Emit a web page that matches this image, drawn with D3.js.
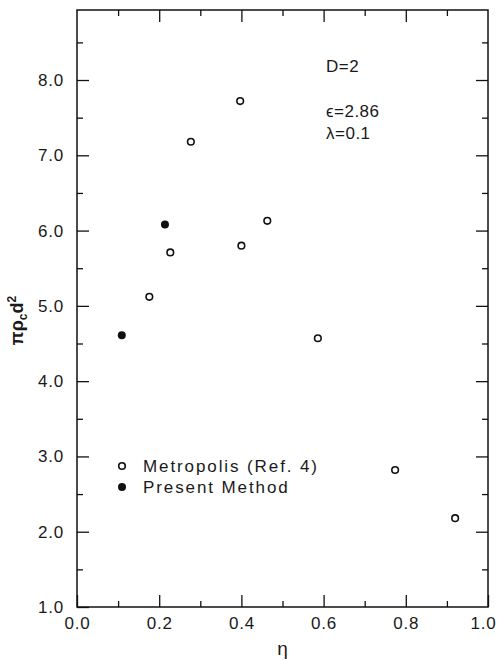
<!DOCTYPE html>
<html>
<head>
<meta charset="utf-8">
<script src="https://cdn.jsdelivr.net/npm/d3@7"></script>
<style>
  html, body { margin: 0; padding: 0; background: #fff; }
  svg { display: block; }
  text { font-family: "Liberation Sans", Arial, sans-serif; fill: #1a1a1a; }
</style>
</head>
<body>
<svg id="chart" width="498" height="661"></svg>
<script>
// Packing fraction eta vs reduced critical density, D=2
const metropolisEta = [0.176, 0.227, 0.277, 0.397, 0.400, 0.463, 0.586, 0.774, 0.920];
const metropolisRho = [5.12, 5.71, 7.18, 7.72, 5.80, 6.13, 4.57, 2.82, 2.18];
const presentEta = [0.109, 0.214];
const presentRho = [4.61, 6.08];

const xMajorTicks = [0.0, 0.2, 0.4, 0.6, 0.8, 1.0];
const xMinorTicks = [0.1, 0.3, 0.5, 0.7, 0.9];
const yMajorTicks = [1, 2, 3, 4, 5, 6, 7, 8];
const yMinorTicks = [1.5, 2.5, 3.5, 4.5, 5.5, 6.5, 7.5, 8.5];

const legendLabels = ["Metropolis (Ref. 4)", "Present Method"];

const plotL = 77, plotR = 488, plotT = 10, plotB = 607;

const svg = d3.select("#chart");

const x = d3.scaleLinear().domain([0, 1]).range([plotL, plotR]);
const y = d3.scaleLinear().domain([1, 8.93]).range([plotB, plotT]);

const fmt = d3.format(".1f");
const major = 12, minor = 6;

function styleAxis(g) {
  g.select(".domain").remove();
  g.selectAll(".tick line").attr("stroke", "#111").attr("stroke-width", 1.3);
  g.selectAll("text")
    .style("font-size", "17px")
    .style("letter-spacing", "0.8px")
    .attr("fill", "#2a2a2a");
}

// bottom axis
const xAxisG = svg.append("g").attr("transform", `translate(0,${plotB})`)
  .call(d3.axisBottom(x).tickValues(xMajorTicks).tickFormat(fmt).tickSizeInner(-major).tickSizeOuter(0).tickPadding(10))
  .call(styleAxis);
// keep the last label inside the page edge
xAxisG.selectAll(".tick text").filter(d => d === 1).attr("dx", -5);
svg.append("g").attr("transform", `translate(0,${plotB})`)
  .call(d3.axisBottom(x).tickValues(xMinorTicks).tickFormat("").tickSizeInner(-minor).tickSizeOuter(0))
  .call(styleAxis);
// top axis
svg.append("g").attr("transform", `translate(0,${plotT})`)
  .call(d3.axisTop(x).tickValues(xMajorTicks.slice(1, -1)).tickFormat("").tickSizeInner(-major).tickSizeOuter(0))
  .call(styleAxis);
svg.append("g").attr("transform", `translate(0,${plotT})`)
  .call(d3.axisTop(x).tickValues(xMinorTicks).tickFormat("").tickSizeInner(-minor).tickSizeOuter(0))
  .call(styleAxis);
// left axis
svg.append("g").attr("transform", `translate(${plotL},0)`)
  .call(d3.axisLeft(y).tickValues(yMajorTicks).tickFormat(fmt).tickSizeInner(-major).tickSizeOuter(0).tickPadding(13))
  .call(styleAxis);
svg.append("g").attr("transform", `translate(${plotL},0)`)
  .call(d3.axisLeft(y).tickValues(yMinorTicks).tickFormat("").tickSizeInner(-minor).tickSizeOuter(0))
  .call(styleAxis);
// right axis
svg.append("g").attr("transform", `translate(${plotR},0)`)
  .call(d3.axisRight(y).tickValues(yMajorTicks.slice(1)).tickFormat("").tickSizeInner(-major).tickSizeOuter(0))
  .call(styleAxis);
svg.append("g").attr("transform", `translate(${plotR},0)`)
  .call(d3.axisRight(y).tickValues(yMinorTicks).tickFormat("").tickSizeInner(-minor).tickSizeOuter(0))
  .call(styleAxis);

// frame
svg.append("rect")
  .attr("x", plotL).attr("y", plotT)
  .attr("width", plotR - plotL).attr("height", plotB - plotT)
  .attr("fill", "none").attr("stroke", "#111").attr("stroke-width", 1.5);

// axis titles
svg.append("text")
  .attr("x", (plotL + plotR) / 2).attr("y", 655)
  .attr("text-anchor", "middle")
  .style("font-size", "19px")
  .text("η");

const yt = svg.append("text")
  .attr("transform", `translate(23,${(plotT + plotB) / 2 + 12}) rotate(-90)`)
  .attr("text-anchor", "middle")
  .style("font-size", "18px")
  .style("font-weight", "bold");
yt.append("tspan").text("πρ");
yt.append("tspan").attr("dy", 4).style("font-size", "12px").text("c");
yt.append("tspan").attr("dy", -4).text("d");
yt.append("tspan").attr("dy", -7).style("font-size", "12px").text("2");

// parameter annotations
const notes = [["D=2", 72], ["ϵ=2.86", 117], ["λ=0.1", 139]];
svg.selectAll(".note").data(notes).join("text")
  .attr("class", "note")
  .attr("x", 326).attr("y", d => d[1])
  .style("font-size", "17px")
  .style("letter-spacing", "0.5px")
  .text(d => d[0]);

// data points
const metro = d3.zip(metropolisEta, metropolisRho);
const present = d3.zip(presentEta, presentRho);

svg.selectAll(".metro").data(metro).join("circle")
  .attr("class", "metro")
  .attr("cx", d => x(d[0])).attr("cy", d => y(d[1]))
  .attr("r", 3.3)
  .attr("fill", "#fff").attr("stroke", "#111").attr("stroke-width", 1.6);

svg.selectAll(".present").data(present).join("circle")
  .attr("class", "present")
  .attr("cx", d => x(d[0])).attr("cy", d => y(d[1]))
  .attr("r", 4)
  .attr("fill", "#111");

// legend
const lg = svg.append("g");
lg.append("circle").attr("cx", 122).attr("cy", 466).attr("r", 3.3)
  .attr("fill", "#fff").attr("stroke", "#111").attr("stroke-width", 1.6);
lg.append("circle").attr("cx", 122).attr("cy", 487).attr("r", 4).attr("fill", "#111");
lg.selectAll("text").data(legendLabels).join("text")
  .attr("x", 143).attr("y", (d, i) => 472 + i * 21)
  .style("font-size", "17px")
  .style("letter-spacing", "1.9px")
  .text(d => d);
</script>
</body>
</html>
